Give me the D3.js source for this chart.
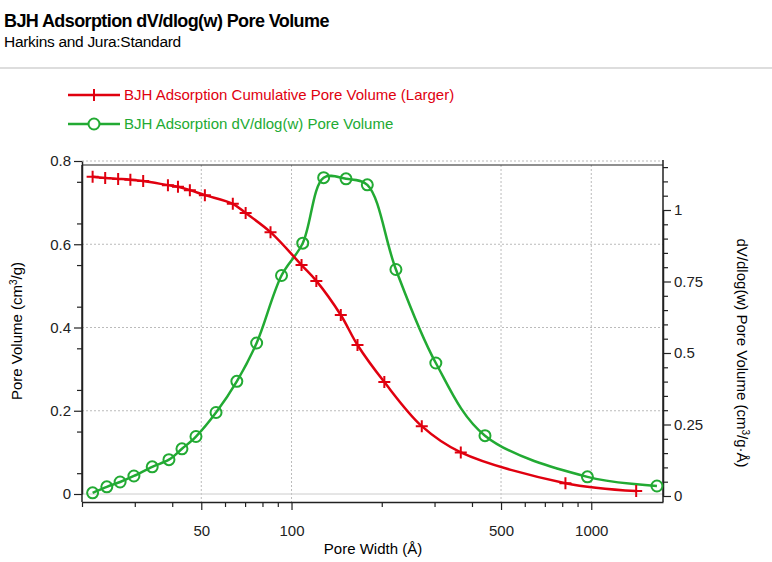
<!DOCTYPE html>
<html><head><meta charset="utf-8">
<script src="https://cdn.jsdelivr.net/npm/d3@7"></script>
<style>body{margin:0;background:#fff;font-family:Arial,"Liberation Sans",sans-serif}</style>
</head><body><svg id="c" width="772" height="562"></svg>
<script>
// cumulative pore volume (left axis)
const cumW = [21.7,23.9,26.4,29.0,32.0,38.7,41.8,45.8,51.4,63.7,70.3,85.1,108,121,146,166,204,272,367,820,1412];
const cumV = [0.762,0.759,0.757,0.755,0.752,0.742,0.738,0.730,0.718,0.697,0.675,0.629,0.550,0.512,0.430,0.358,0.269,0.163,0.100,0.026,0.007];
// dV/dlog(w) (right axis)
const dvW = [21.7,24.2,26.8,29.8,34.3,39.0,43.1,48.0,56.0,65.7,76.5,92.6,109,128,152,179,223,303,442,971,1656];
const dvV = [0.011,0.032,0.049,0.070,0.102,0.127,0.165,0.208,0.292,0.401,0.535,0.771,0.884,1.113,1.109,1.088,0.792,0.465,0.211,0.067,0.035];
const xMajor = [50,100,500,1000];
const yLeftTicks = [0,0.2,0.4,0.6,0.8];
const yRightTicks = [0,0.25,0.5,0.75,1];

const RED = '#e0000f', GREEN = '#22aa33';
const svg = d3.select('#c');
const L = 82, R = 663, T = 165, B = 502;

const x = d3.scaleLog().domain([20, 1735]).range([L, R]);
const yL = d3.scaleLinear().domain([0, 0.8]).range([494, 161]);
const yR = d3.scaleLinear().domain([0, 1]).range([496, 210]);

// header
svg.append('text').attr('x', 4).attr('y', 27).attr('font-size', 18).attr('font-weight', 'bold')
  .attr('letter-spacing', -0.6).text('BJH Adsorption dV/dlog(w) Pore Volume');
svg.append('text').attr('x', 4).attr('y', 47).attr('font-size', 15.5).attr('letter-spacing', -0.3).text('Harkins and Jura:Standard');
svg.append('line').attr('x1', 0).attr('x2', 772).attr('y1', 68).attr('y2', 68).attr('stroke', '#bbb');

// grid
const grid = svg.append('g').attr('stroke', '#bbb').attr('stroke-dasharray', '2,2');
xMajor.forEach(v => grid.append('line').attr('x1', x(v)).attr('x2', x(v)).attr('y1', T).attr('y2', B));
yLeftTicks.filter(v => v > 0).forEach(v => grid.append('line').attr('x1', L).attr('x2', R).attr('y1', yL(v)).attr('y2', yL(v)));
svg.append('line').attr('x1', L).attr('x2', R).attr('y1', yL(0)).attr('y2', yL(0)).attr('stroke', '#ccc');

// frame
svg.append('line').attr('x1', L).attr('x2', R).attr('y1', T).attr('y2', T).attr('stroke', '#222').attr('stroke-width', 1.2);

// axes
const fmt = d => d === 0 ? '0' : String(d);
const ax = svg.append('g');
ax.append('g').attr('transform', `translate(${L},0)`)
  .call(d3.axisLeft(yL).tickValues(yLeftTicks).tickFormat(fmt).tickSize(8).tickSizeOuter(0));
ax.append('g').attr('transform', `translate(${L},0)`)
  .call(d3.axisLeft(yL).tickValues(d3.range(0.05, 0.8, 0.1)).tickFormat('').tickSize(5)).select('.domain').remove();
ax.append('g').attr('transform', `translate(${R},0)`)
  .call(d3.axisRight(yR).tickValues(yRightTicks).tickFormat(fmt).tickSize(8).tickSizeOuter(0));
ax.append('g').attr('transform', `translate(${R},0)`)
  .call(d3.axisRight(yR).tickValues(d3.range(0.05, 1.16, 0.05).filter(v => Math.abs(v*4 - Math.round(v*4)) > 0.01)).tickFormat('').tickSize(5)).select('.domain').remove();
const minorX = [20,30,40,60,70,80,90,200,300,400,600,700,800,900];
ax.append('g').attr('transform', `translate(0,${B})`)
  .call(d3.axisBottom(x).tickValues(xMajor).tickFormat(d3.format('d')).tickSize(8).tickSizeOuter(0))
  .call(a => a.selectAll('text').attr('dy', '1.5em'));
ax.append('g').attr('transform', `translate(0,${B})`)
  .call(d3.axisBottom(x).tickValues(minorX).tickFormat('').tickSize(5)).select('.domain').remove();
ax.selectAll('.domain').attr('stroke-width', 1.5).attr('stroke', '#222');
ax.selectAll('.tick line').attr('stroke', '#222').attr('stroke-width', 1.2);
ax.selectAll('text').attr('fill', '#222').attr('font-size', 15)
  .attr('font-family', 'Arial,"Liberation Sans",sans-serif');
// extend axis lines to frame
svg.append('line').attr('x1', L).attr('x2', L).attr('y1', T).attr('y2', B).attr('stroke', '#222').attr('stroke-width', 1.5);
svg.append('line').attr('x1', R).attr('x2', R).attr('y1', 160).attr('y2', B).attr('stroke', '#222').attr('stroke-width', 1.5);

// axis titles
svg.append('text').attr('x', 373).attr('y', 554).attr('text-anchor', 'middle').attr('font-size', 15).text('Pore Width (Å)');
svg.append('text').attr('transform', 'translate(22,331) rotate(-90)').attr('text-anchor', 'middle').attr('font-size', 15)
  .html('Pore Volume (cm<tspan dy="-5" font-size="10">3</tspan><tspan dy="5">/g)</tspan>');
svg.append('text').attr('transform', 'translate(737,353) rotate(90)').attr('text-anchor', 'middle').attr('font-size', 15)
  .html('dV/dlog(w) Pore Volume (cm<tspan dy="-5" font-size="10">3</tspan><tspan dy="5">/g·Å)</tspan>');

// series
const cum = cumW.map((w, i) => [w, cumV[i]]);
const dv = dvW.map((w, i) => [w, dvV[i]]);
const lineL = d3.line().x(d => x(d[0])).y(d => yL(d[1])).curve(d3.curveCatmullRom.alpha(0.5));
const lineR = d3.line().x(d => x(d[0])).y(d => yR(d[1])).curve(d3.curveCatmullRom.alpha(0.5));

svg.append('path').datum(dv).attr('d', lineR).attr('fill', 'none').attr('stroke', GREEN).attr('stroke-width', 2.5);
svg.append('g').selectAll('circle').data(dv).join('circle')
  .attr('cx', d => x(d[0])).attr('cy', d => yR(d[1])).attr('r', 5.5)
  .attr('fill', 'none').attr('stroke', GREEN).attr('stroke-width', 2);

svg.append('path').datum(cum).attr('d', lineL).attr('fill', 'none').attr('stroke', RED).attr('stroke-width', 2.5);
svg.append('g').selectAll('path').data(cum).join('path')
  .attr('transform', d => `translate(${x(d[0])},${yL(d[1])})`)
  .attr('d', 'M-6,0H6M0,-6V6').attr('stroke', RED).attr('stroke-width', 2);

// legend
const leg = svg.append('g').attr('font-size', 15);
leg.append('line').attr('x1', 68).attr('x2', 120).attr('y1', 95).attr('y2', 95).attr('stroke', RED).attr('stroke-width', 2.5);
leg.append('path').attr('transform', 'translate(94,95)').attr('d', 'M-6,0H6M0,-6V6').attr('stroke', RED).attr('stroke-width', 2);
leg.append('text').attr('x', 124).attr('y', 100).attr('fill', RED).text('BJH Adsorption Cumulative Pore Volume (Larger)');
leg.append('line').attr('x1', 68).attr('x2', 120).attr('y1', 124).attr('y2', 124).attr('stroke', GREEN).attr('stroke-width', 2.5);
leg.append('circle').attr('cx', 94).attr('cy', 124).attr('r', 5.5).attr('fill', '#fff').attr('stroke', GREEN).attr('stroke-width', 2);
leg.append('text').attr('x', 124).attr('y', 129).attr('fill', GREEN).text('BJH Adsorption dV/dlog(w) Pore Volume');
</script></body></html>
